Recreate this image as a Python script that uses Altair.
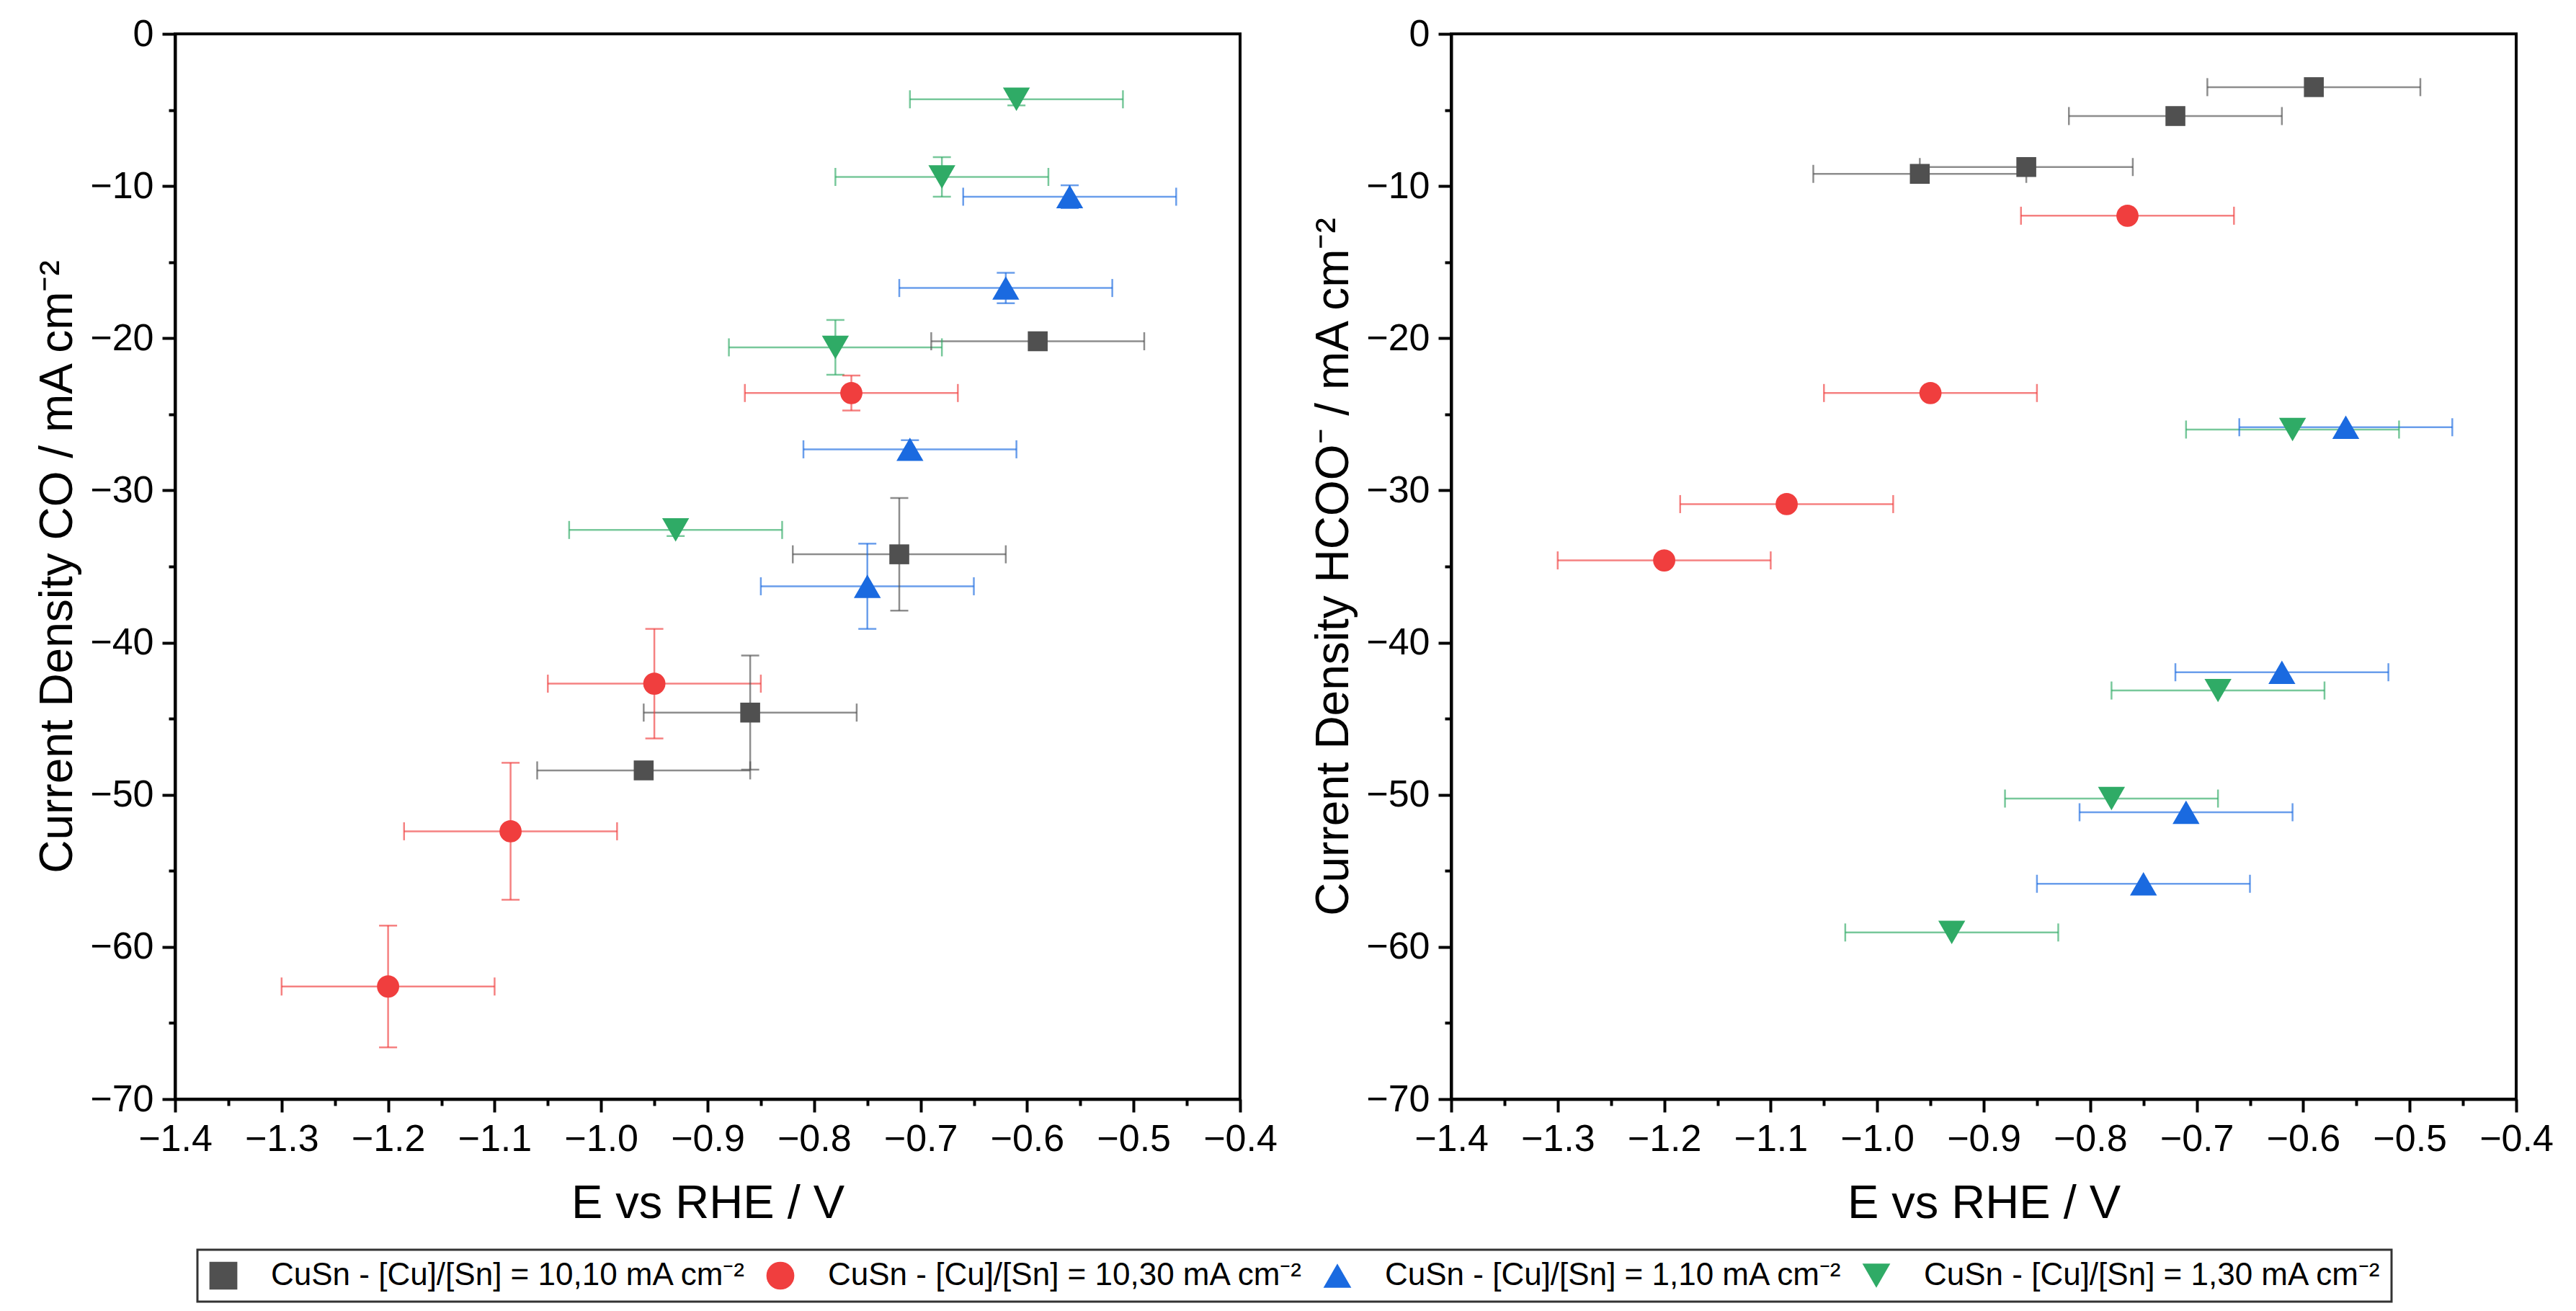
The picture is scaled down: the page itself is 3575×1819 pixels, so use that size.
import altair as alt
import pandas as pd

FONT = "Liberation Sans, Arial, Helvetica, sans-serif"

# Sample series (legend order)
SAMPLES = [
    "CuSn - [Cu]/[Sn] = 10,10 mA cm⁻²",
    "CuSn - [Cu]/[Sn] = 10,30 mA cm⁻²",
    "CuSn - [Cu]/[Sn] = 1,10 mA cm⁻²",
    "CuSn - [Cu]/[Sn] = 1,30 mA cm⁻²",
]

# Applied potential, V vs RHE (same electrolyses for both products)
E_10_10 = [-0.59, -0.72, -0.86, -0.96]
E_10_30 = [-0.765, -0.95, -1.085, -1.20]
E_1_10 = [-0.56, -0.62, -0.71, -0.75]
E_1_30 = [-0.61, -0.68, -0.78, -0.93]
E_ERR = 0.1

# Partial current density for CO, mA cm-2, with standard deviation
CO_10_10 = [-20.2, -34.2, -44.6, -48.4]
CO_10_10_ERR = [0.5, 3.7, 3.75, 0.5]
CO_10_30 = [-23.6, -42.7, -52.4, -62.6]
CO_10_30_ERR = [1.15, 3.6, 4.5, 4.0]
CO_1_10 = [-10.7, -16.7, -27.3, -36.3]
CO_1_10_ERR = [0.75, 1.0, 0.6, 2.8]
CO_1_30 = [-4.3, -9.4, -20.6, -32.6]
CO_1_30_ERR = [0.4, 1.3, 1.8, 0.4]

# Partial current density for formate, mA cm-2
HCOO_10_10 = [-3.5, -5.4, -8.75, -9.2]
HCOO_10_30 = [-11.95, -23.6, -30.9, -34.6]
HCOO_1_10 = [-25.85, -41.95, -51.15, -55.85]
HCOO_1_30 = [-26.0, -43.15, -50.25, -59.05]
HCOO_ERR = [0.0, 0.0, 0.0, 0.0]

# Axis ticks
X_MAJOR = [-1.4, -1.3, -1.2, -1.1, -1.0, -0.9, -0.8, -0.7, -0.6, -0.5, -0.4]
Y_MAJOR = [-70, -60, -50, -40, -30, -20, -10, 0]

# Styling, one entry per sample
MARKER_COLORS = ["#505050", "#f03e3e", "#1a6ae0", "#2fab66"]
SHAPES = ["square", "circle", "triangle-up", "triangle-down"]
SIZES = [760, 950, 1400, 1400]
STYLE = {s: dict(ecolor=c, msize=z) for s, c, z in zip(SAMPLES, MARKER_COLORS, SIZES)}

POTENTIALS = [E_10_10, E_10_30, E_1_10, E_1_30]


def build_frame(currents, errors):
    rows = []
    for name, pots, js, jerrs in zip(SAMPLES, POTENTIALS, currents, errors):
        for e, j, je in zip(pots, js, jerrs):
            rows.append(dict(sample=name, E=e, j=j, jerr=je,
                             E_lo=e - E_ERR, E_hi=e + E_ERR,
                             j_lo=j - je, j_hi=j + je, **STYLE[name]))
    return pd.DataFrame(rows)


co_df = build_frame([CO_10_10, CO_10_30, CO_1_10, CO_1_30],
                    [CO_10_10_ERR, CO_10_30_ERR, CO_1_10_ERR, CO_1_30_ERR])
hcoo_df = build_frame([HCOO_10_10, HCOO_10_30, HCOO_1_10, HCOO_1_30],
                      [HCOO_ERR] * 4)

# minor ticks halfway between the labelled ones
x_ticks = sorted(X_MAJOR + [round((a + b) / 2, 3) for a, b in zip(X_MAJOR[:-1], X_MAJOR[1:])])
y_ticks = sorted(Y_MAJOR + [(a + b) / 2 for a, b in zip(Y_MAJOR[:-1], Y_MAJOR[1:])])

X_MAJOR_TEST = "abs(round(datum.value * 20)) % 2 == 0"
Y_MAJOR_TEST = "abs(round(datum.value)) % 10 == 0"

x_scale = alt.Scale(domain=[-1.4, -0.4], nice=False, zero=False)
y_scale = alt.Scale(domain=[-70, 0], nice=False, zero=False)

x_axis = alt.Axis(
    title="E vs RHE / V", values=x_ticks, format=".1f",
    labelExpr=f"{X_MAJOR_TEST} ? datum.label : ''",
    tickSize={"condition": {"test": X_MAJOR_TEST, "value": 18}, "value": 9},
    labelFlush=False, labelOverlap=False, labelPadding=12,
    titleFontSize=65, titlePadding=32,
)


def y_axis(title):
    return alt.Axis(
        title=title, values=y_ticks, format="d",
        labelExpr=f"{Y_MAJOR_TEST} ? datum.label : ''",
        tickSize={"condition": {"test": Y_MAJOR_TEST, "value": 18}, "value": 9},
        labelFlush=False, labelOverlap=False, labelPadding=12,
        titleFontSize=64, titlePadding=12,
    )


stroke_enc = alt.Stroke("ecolor:N", scale=None)

# shared legend in a framed box under both panels
legend = alt.Legend(
    title=None, orient="none", legendX=31, legendY=1687,
    direction="horizontal", columns=4,
    labelFont=FONT, labelFontSize=44, labelColor="black", labelLimit=2000,
    labelOffset=44, columnPadding=25, padding=14,
    symbolSize=1500, symbolStrokeWidth=0, symbolOpacity=1,
    strokeColor="#333333", fillColor="white",
)


def panel(df, ytitle):
    ya = y_axis(ytitle)

    def X(field):
        return alt.X(field, type="quantitative", scale=x_scale, axis=x_axis)

    def Y(field):
        return alt.Y(field, type="quantitative", scale=y_scale, axis=ya)

    base = alt.Chart(df)
    err = dict(strokeWidth=2.5, opacity=0.65)

    hbar = base.mark_rule(**err).encode(x=X("E_lo"), x2="E_hi", y=Y("j"), stroke=stroke_enc)
    hcap_lo = base.mark_rule(yOffset=-12.5, y2Offset=12.5, **err).encode(
        x=X("E_lo"), y=Y("j"), y2="j", stroke=stroke_enc)
    hcap_hi = base.mark_rule(yOffset=-12.5, y2Offset=12.5, **err).encode(
        x=X("E_hi"), y=Y("j"), y2="j", stroke=stroke_enc)

    vbase = base.transform_filter("datum.jerr > 0")
    vbar = vbase.mark_rule(**err).encode(x=X("E"), y=Y("j_lo"), y2="j_hi", stroke=stroke_enc)
    vcap_lo = vbase.mark_rule(xOffset=-12.5, x2Offset=12.5, **err).encode(
        x=X("E"), x2="E", y=Y("j_lo"), stroke=stroke_enc)
    vcap_hi = vbase.mark_rule(xOffset=-12.5, x2Offset=12.5, **err).encode(
        x=X("E"), x2="E", y=Y("j_hi"), stroke=stroke_enc)

    points = base.mark_point(filled=True, opacity=1, strokeWidth=0).encode(
        x=X("E"), y=Y("j"),
        color=alt.Color("sample:N", scale=alt.Scale(domain=SAMPLES, range=MARKER_COLORS), legend=legend),
        shape=alt.Shape("sample:N", scale=alt.Scale(domain=SAMPLES, range=SHAPES), legend=legend),
        size=alt.Size("msize:Q", scale=None),
    )

    return alt.layer(hbar, hcap_lo, hcap_hi, vbar, vcap_lo, vcap_hi, points).properties(
        width=1478, height=1478)


left = panel(co_df, "Current Density CO / mA cm⁻²")
right = panel(hcoo_df, "Current Density HCOO⁻ / mA cm⁻²")

chart = (
    alt.hconcat(left, right, spacing=293, bounds="flush")
    .resolve_scale(color="shared", shape="shared")
    .resolve_legend(color="shared", shape="shared")
    .properties(padding={"left": 46, "top": 19, "right": 0, "bottom": 0}, background="white")
    .configure_view(stroke="black", strokeWidth=4)
    .configure_axis(
        domainColor="black", domainWidth=4, tickColor="black", tickWidth=4,
        labelFont=FONT, labelFontSize=52, labelColor="black",
        titleFont=FONT, titleFontWeight="normal", titleColor="black", grid=False,
    )
    .configure_legend(strokeWidth=3)
)

chart.save("out.html", embed_options={"renderer": "svg", "actions": False})
